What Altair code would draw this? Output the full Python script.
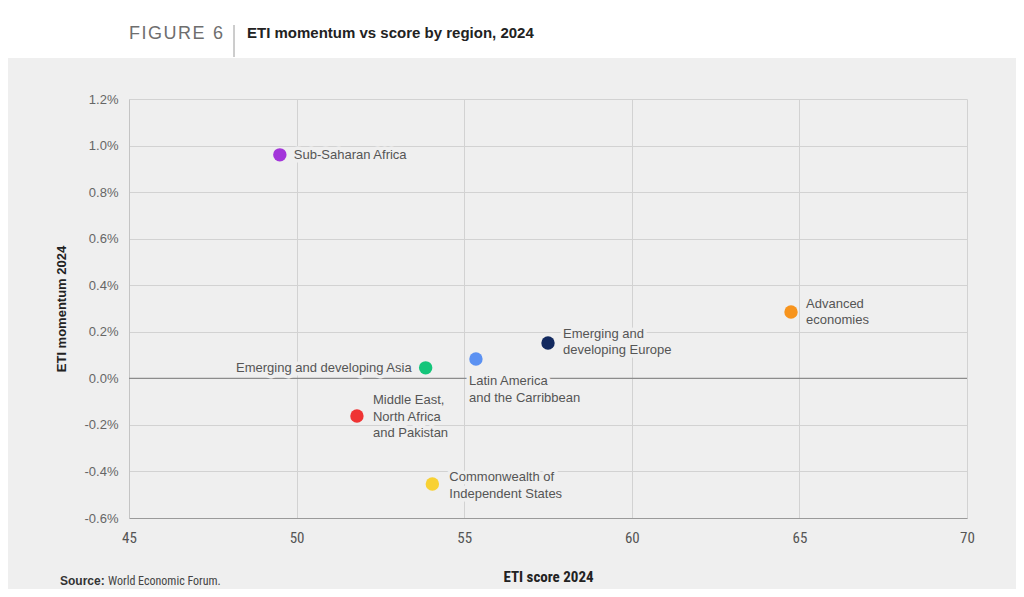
import altair as alt
import pandas as pd

# ---------------- data ----------------
regions = [
    "Sub-Saharan Africa",
    "Emerging and developing Asia",
    "Latin America and the Carribbean",
    "Emerging and developing Europe",
    "Advanced economies",
    "Middle East, North Africa and Pakistan",
    "Commonwealth of Independent States",
]
label_text = [
    "Sub-Saharan Africa",
    "Emerging and developing Asia",
    "Latin America\nand the Carribbean",
    "Emerging and\ndeveloping Europe",
    "Advanced\neconomies",
    "Middle East,\nNorth Africa\nand Pakistan",
    "Commonwealth of\nIndependent States",
]
eti_score = [49.5, 53.85, 55.35, 57.5, 64.75, 51.8, 54.05]
eti_momentum = [0.96, 0.045, 0.083, 0.152, 0.285, -0.162, -0.454]
colors = ["#a335da", "#14c57a", "#5b91f2", "#12295f", "#f7941d", "#ef3434", "#f8d133"]
x_ticks = [45, 50, 55, 60, 65, 70]
y_ticks = [-0.6, -0.4, -0.2, 0.0, 0.2, 0.4, 0.6, 0.8, 1.0, 1.2]

df = pd.DataFrame({"region": regions, "label": label_text,
                   "score": eti_score, "momentum": eti_momentum})
one = pd.DataFrame({"k": [0]})

# ---------------- style ----------------
BG = "#efefef"
FONT = "Liberation Sans"
NARROW = "Liberation Sans Narrow, Roboto Condensed, Liberation Sans"
W, H = 838, 419
PAD_L, PAD_T = 121, 91
TOTAL_W, TOTAL_H = 1008, 581

label_pos = {
    "Sub-Saharan Africa": ("left", 14, 0),
    "Emerging and developing Asia": ("right", -14, 0),
    "Latin America and the Carribbean": ("left", -7, 22),
    "Emerging and developing Europe": ("left", 15, -9),
    "Advanced economies": ("left", 15, -8),
    "Middle East, North Africa and Pakistan": ("left", 16, -16),
    "Commonwealth of Independent States": ("left", 17, -7),
}

xs = alt.Scale(domain=[45, 70], nice=False, zero=False)
ys = alt.Scale(domain=[-0.6, 1.2], nice=False, zero=False)

x_axis = alt.Axis(values=x_ticks, title="ETI score 2024", grid=True,
                  gridColor="#d2d2d2", domainColor="#9a9a9a", domainWidth=1.2,
                  ticks=False, tickSize=0, labelPadding=12, labelFont=NARROW,
                  labelFontSize=15, labelColor="#555555", labelFlush=False,
                  titleFont=NARROW, titleFontSize=15, titleFontWeight="bold",
                  titleColor="#222222", titlePadding=24)
y_axis = alt.Axis(values=y_ticks, title="ETI momentum 2024", grid=True,
                  gridColor="#d2d2d2", domainColor="#c4c4c4",
                  ticks=False, tickSize=0, labelPadding=11, labelFont=FONT,
                  labelFontSize=13, labelColor="#666666", labelFlush=False,
                  labelExpr="replace(format(datum.value, '.1f'), '\u2212', '-') + '%'",
                  titleFont=FONT, titleFontSize=13, titleFontWeight="bold",
                  titleColor="#222222", titlePadding=16)

# header white band
header_bg = alt.Chart(one).mark_rect(color="white").encode(
    x=alt.value(-PAD_L - 5), x2=alt.value(W + 60),
    y=alt.value(-PAD_T - 5), y2=alt.value(-41))
separator = alt.Chart(one).mark_rule(color="#9a9a9a", strokeWidth=1).encode(
    x=alt.value(105), y=alt.value(-74), y2=alt.value(-42))
fig_text = alt.Chart(one).mark_text(
    text="F\u200aI\u200aG\u200aU\u200aR\u200aE\u2009 6", font=FONT, fontSize=18,
    color="#6e6e6e", align="left", baseline="alphabetic").encode(
    x=alt.value(0), y=alt.value(-60))
title_text = alt.Chart(one).mark_text(
    text="ETI momentum vs score by region, 2024", font=FONT, fontSize=15,
    fontWeight="bold", color="#222222", align="left", baseline="alphabetic").encode(
    x=alt.value(118), y=alt.value(-61))
src_bold = alt.Chart(one).mark_text(
    text="Source:", font=FONT, fontSize=12, fontWeight="bold", color="#333333",
    align="left", baseline="alphabetic").encode(x=alt.value(-69), y=alt.value(486))
src_rest = alt.Chart(one).mark_text(
    text="World Economic Forum.", font=NARROW, fontSize=12, color="#444444",
    align="left", baseline="alphabetic").encode(x=alt.value(-21), y=alt.value(486))

zero = alt.Chart(one).mark_rule(color="#8c8c8c", strokeWidth=1.4).encode(
    y=alt.datum(0, scale=ys))

points = alt.Chart(df).mark_circle(size=180, opacity=1).encode(
    x=alt.X("score:Q", scale=xs, axis=x_axis),
    y=alt.Y("momentum:Q", scale=ys, axis=y_axis),
    color=alt.Color("region:N", scale=alt.Scale(domain=regions, range=colors),
                    legend=None),
)

halo_layers = []
text_layers = []
for r in regions:
    align, dx, dy = label_pos[r]
    base = alt.Chart(df).transform_filter(alt.datum.region == r)
    enc = dict(x=alt.X("score:Q", scale=xs), y=alt.Y("momentum:Q", scale=ys),
               text="label:N")
    halo_layers.append(base.mark_text(
        align=align, baseline="middle", dx=dx, dy=dy, lineBreak="\n",
        lineHeight=16.5, font=FONT, fontSize=13, fill=BG, stroke=BG,
        strokeWidth=7, strokeJoin="round").encode(**enc))
    text_layers.append(base.mark_text(
        align=align, baseline="middle", dx=dx, dy=dy, lineBreak="\n",
        lineHeight=16.5, font=FONT, fontSize=13, color="#555555").encode(**enc))

chart = alt.layer(
    header_bg, separator, fig_text, title_text, src_bold, src_rest,
    zero, points, *halo_layers, *text_layers,
).properties(
    width=W, height=H, background=BG,
    autosize=alt.AutoSizeParams(type="none"),
    padding={"left": PAD_L, "top": PAD_T, "right": TOTAL_W - PAD_L - W,
             "bottom": TOTAL_H - PAD_T - H},
).configure_view(strokeWidth=0)

chart.save("out.html", embed_options={"renderer": "svg", "actions": False})
